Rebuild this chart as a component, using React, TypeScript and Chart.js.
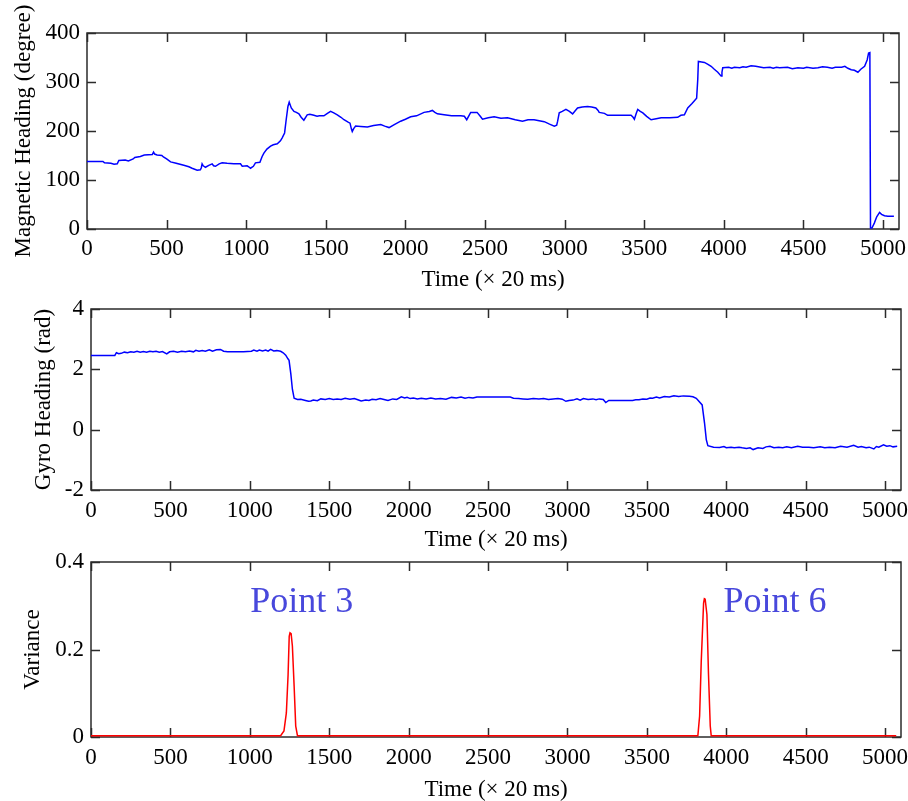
import React, { useEffect, useRef } from 'react';
import { Chart, registerables } from 'chart.js';

Chart.register(...registerables);

// ---------- data ----------
const xTicks = [0, 500, 1000, 1500, 2000, 2500, 3000, 3500, 4000, 4500, 5000];
const xTitle = 'Time (× 20 ms)';

// [time (×20 ms), magnetic heading (degree)]
const magSamples: [number, number][] = [
  [0, 138], [100, 138], [110, 135], [150, 134], [170, 132], [190, 133], [200, 140], [240, 141], [260, 139],
  [290, 143], [300, 146], [335, 148], [360, 151], [410, 152], [418, 157], [425, 153], [440, 151], [470, 150],
  [480, 147], [500, 143], [525, 137], [560, 134], [608, 130], [640, 127], [660, 124], [692, 120], [712, 121],
  [718, 125], [723, 133], [730, 129], [744, 126], [765, 130], [786, 133], [795, 129], [807, 128], [830, 133],
  [849, 135], [880, 134], [922, 133], [964, 133], [975, 128], [1006, 129], [1015, 127], [1027, 124], [1045, 128],
  [1058, 135], [1086, 136], [1100, 148], [1111, 155], [1130, 163], [1153, 169], [1170, 172], [1195, 174],
  [1215, 180], [1226, 186], [1241, 196], [1251, 223], [1262, 250], [1270, 259], [1283, 247], [1300, 240],
  [1315, 238], [1331, 235], [1345, 228], [1362, 222], [1383, 233], [1400, 234], [1425, 232], [1445, 230],
  [1460, 231], [1488, 231], [1510, 236], [1530, 240], [1550, 237], [1572, 233], [1595, 228], [1614, 223],
  [1640, 218], [1652, 216], [1660, 205], [1666, 199], [1675, 205], [1687, 210], [1720, 209], [1761, 208],
  [1800, 211], [1845, 213], [1870, 210], [1897, 207], [1930, 213], [1970, 220], [2000, 224], [2033, 229],
  [2070, 231], [2117, 238], [2150, 240], [2169, 242], [2185, 238], [2201, 235], [2243, 233], [2290, 231],
  [2348, 231], [2370, 230], [2385, 223], [2400, 232], [2410, 238], [2450, 238], [2470, 230], [2484, 224],
  [2520, 227], [2557, 229], [2600, 226], [2641, 227], [2690, 223], [2735, 220], [2770, 223], [2808, 223],
  [2840, 221], [2872, 219], [2905, 214], [2935, 210], [2950, 212], [2956, 220], [2966, 237], [2985, 240],
  [3008, 244], [3030, 240], [3050, 235], [3065, 241], [3081, 247], [3110, 249], [3144, 250], [3170, 249],
  [3196, 247], [3210, 242], [3217, 238], [3250, 236], [3270, 232], [3417, 232], [3430, 228], [3438, 224],
  [3450, 236], [3459, 244], [3475, 240], [3491, 237], [3515, 230], [3543, 223], [3575, 225], [3606, 227],
  [3660, 227], [3710, 228], [3730, 232], [3752, 233], [3773, 247], [3800, 256], [3829, 267], [3836, 305],
  [3840, 342], [3860, 341], [3878, 340], [3900, 336], [3920, 332], [3940, 326], [3962, 320], [3983, 312],
  [3988, 320], [3993, 329], [4030, 330], [4050, 328], [4066, 330], [4100, 329], [4120, 331], [4140, 330],
  [4171, 333], [4200, 332], [4250, 329], [4290, 330], [4310, 328], [4330, 330], [4350, 329], [4400, 330],
  [4430, 327], [4465, 329], [4500, 328], [4520, 330], [4560, 328], [4591, 329], [4620, 331], [4650, 330],
  [4680, 328], [4700, 330], [4740, 330], [4760, 332], [4779, 328], [4800, 325], [4820, 324], [4842, 320],
  [4860, 326], [4884, 332], [4900, 345], [4909, 359], [4917, 360], [4921, 2], [4930, 2], [4945, 12],
  [4960, 25], [4978, 34], [4990, 30], [5009, 27], [5030, 26], [5068, 26],
];

// [time (×20 ms), gyro heading (rad)]
const gyroSamples: [number, number][] = [
  [0, 2.46], [150, 2.46], [160, 2.55], [175, 2.52], [190, 2.53], [210, 2.57], [230, 2.55], [250, 2.58],
  [270, 2.57], [290, 2.6], [310, 2.57], [330, 2.59], [350, 2.57], [370, 2.6], [390, 2.58], [410, 2.6],
  [430, 2.57], [450, 2.59], [477, 2.51], [495, 2.58], [520, 2.6], [545, 2.57], [570, 2.6], [595, 2.58],
  [620, 2.61], [645, 2.58], [660, 2.63], [680, 2.6], [700, 2.62], [720, 2.6], [745, 2.65], [765, 2.6],
  [790, 2.65], [815, 2.66], [835, 2.6], [860, 2.58], [900, 2.58], [960, 2.58], [985, 2.59], [1010, 2.6],
  [1025, 2.64], [1045, 2.6], [1060, 2.64], [1080, 2.61], [1100, 2.64], [1115, 2.6], [1131, 2.66],
  [1150, 2.61], [1170, 2.62], [1194, 2.6], [1210, 2.55], [1226, 2.47], [1240, 2.35], [1247, 2.3],
  [1258, 1.86], [1268, 1.34], [1279, 1.04], [1300, 1.0], [1321, 1.01], [1350, 0.97], [1370, 0.94],
  [1384, 0.95], [1400, 0.98], [1425, 0.96], [1447, 1.02], [1475, 1.0], [1500, 1.03], [1525, 1.0],
  [1550, 1.02], [1575, 1.0], [1600, 1.04], [1630, 1.01], [1658, 1.03], [1680, 0.99], [1701, 0.95],
  [1730, 0.98], [1750, 0.97], [1770, 1.01], [1795, 0.99], [1820, 1.03], [1845, 1.0], [1870, 0.97],
  [1900, 1.02], [1925, 1.0], [1954, 1.09], [1975, 1.05], [1990, 1.07], [2010, 1.03], [2030, 1.05],
  [2055, 1.02], [2080, 1.04], [2110, 1.02], [2140, 1.05], [2170, 1.02], [2200, 1.03], [2235, 1.01],
  [2270, 1.07], [2300, 1.05], [2330, 1.08], [2355, 1.04], [2380, 1.07], [2405, 1.05], [2430, 1.08],
  [2482, 1.08], [2550, 1.08], [2640, 1.08], [2660, 1.04], [2692, 1.03], [2720, 1.02], [2750, 1.01],
  [2785, 1.03], [2820, 1.02], [2850, 1.03], [2880, 1.0], [2910, 1.02], [2940, 1.03], [2967, 1.01],
  [2990, 0.94], [3010, 0.97], [3035, 0.98], [3060, 1.02], [3080, 0.98], [3100, 1.03], [3130, 1.0],
  [3160, 1.02], [3180, 0.99], [3200, 1.02], [3225, 1.0], [3241, 0.9], [3260, 0.97], [3283, 0.97],
  [3410, 0.97], [3430, 0.99], [3450, 0.99], [3475, 1.02], [3500, 1.01], [3520, 1.05], [3536, 1.04],
  [3560, 1.08], [3580, 1.05], [3610, 1.1], [3641, 1.08], [3670, 1.12], [3700, 1.1], [3730, 1.12],
  [3768, 1.11], [3790, 1.09], [3811, 1.04], [3848, 0.82], [3863, 0.22], [3874, -0.33], [3884, -0.53],
  [3920, -0.58], [3958, -0.59], [3985, -0.56], [4000, -0.6], [4030, -0.58], [4050, -0.6], [4080, -0.58],
  [4100, -0.6], [4127, -0.62], [4150, -0.6], [4169, -0.66], [4200, -0.6], [4230, -0.62], [4250, -0.57],
  [4275, -0.55], [4300, -0.6], [4330, -0.58], [4355, -0.6], [4381, -0.57], [4410, -0.6], [4450, -0.55],
  [4480, -0.58], [4520, -0.58], [4550, -0.6], [4592, -0.57], [4620, -0.6], [4650, -0.58], [4685, -0.6],
  [4720, -0.55], [4760, -0.58], [4802, -0.52], [4830, -0.58], [4850, -0.56], [4880, -0.6], [4900, -0.58],
  [4929, -0.64], [4945, -0.56], [4960, -0.58], [4990, -0.5], [5010, -0.55], [5030, -0.53], [5050, -0.57],
  [5076, -0.55],
];

// [time (×20 ms), variance]
const varSamples: [number, number][] = [
  [0, 0.003], [1194, 0.003], [1215, 0.014], [1230, 0.055], [1241, 0.143], [1248, 0.23], [1253, 0.238],
  [1260, 0.236], [1268, 0.208], [1279, 0.116], [1289, 0.025], [1300, 0.003], [3821, 0.003], [3832, 0.048],
  [3842, 0.17], [3857, 0.306], [3862, 0.316], [3867, 0.315], [3878, 0.28], [3888, 0.143], [3899, 0.025],
  [3905, 0.003], [5070, 0.003],
];

const magYTicks = [0, 100, 200, 300, 400];
const gyroYTicks = [-2, 0, 2, 4];
const varYTicks = [0, 0.2, 0.4];

const annoLabels = ['Point 3', 'Point 6'];
const annoTime = [1003, 3983];
const annoValue = [0.285, 0.285];

// ---------- helpers ----------
const SERIF = '"Liberation Serif", "Times New Roman", serif';
const W = 908;

type PanelDef = {
  top: number; height: number;
  area: { left: number; top: number; right: number; bottom: number };
  samples: [number, number][]; color: string;
  yMin: number; yMax: number; yTicks: number[]; yTitle: string;
  yTitlePad: number; xTitlePad: number; xTickPad: number; yTickPad: number;
  annotations?: boolean;
};

const panels: PanelDef[] = [
  {
    top: 0, height: 300, area: { left: 87, top: 33, right: 899, bottom: 229 },
    samples: magSamples, color: '#0000ff', yMin: 0, yMax: 400, yTicks: magYTicks,
    yTitle: 'Magnetic Heading (degree)', yTitlePad: 12, xTitlePad: 9, xTickPad: 8, yTickPad: 7,
  },
  {
    top: 290, height: 270, area: { left: 91, top: 19, right: 901, bottom: 200 },
    samples: gyroSamples, color: '#0000ff', yMin: -2, yMax: 4, yTicks: gyroYTicks,
    yTitle: 'Gyro Heading (rad)', yTitlePad: 32, xTitlePad: 9, xTickPad: 9, yTickPad: 7,
  },
  {
    top: 550, height: 251, area: { left: 91, top: 12, right: 901, bottom: 187 },
    samples: varSamples, color: '#ff0000', yMin: 0, yMax: 0.4, yTicks: varYTicks,
    yTitle: 'Variance', yTitlePad: 21, xTitlePad: 0, xTickPad: 9, yTickPad: 7, annotations: true,
  },
];

const framePlugin = {
  id: 'matlabFrame',
  beforeDatasetsDraw(chart: any) {
    const { ctx, chartArea: a, scales } = chart;
    const x = scales.x, y = scales.y;
    const tl = 9;
    ctx.save();
    ctx.strokeStyle = '#2b2b2b';
    ctx.lineWidth = 1.5;
    ctx.beginPath();
    x.ticks.forEach((tk: any) => {
      const px = Math.round(x.getPixelForValue(tk.value)) + 0.5;
      ctx.moveTo(px, a.bottom); ctx.lineTo(px, a.bottom - tl);
      ctx.moveTo(px, a.top); ctx.lineTo(px, a.top + tl);
    });
    y.ticks.forEach((tk: any) => {
      const py = Math.round(y.getPixelForValue(tk.value)) + 0.5;
      ctx.moveTo(a.left, py); ctx.lineTo(a.left + tl, py);
      ctx.moveTo(a.right, py); ctx.lineTo(a.right - tl, py);
    });
    ctx.stroke();
    ctx.strokeRect(a.left, a.top, a.right - a.left, a.bottom - a.top);
    ctx.restore();
  },
};

const annoPlugin = {
  id: 'pointLabels',
  afterDraw(chart: any) {
    if (!chart.options.plugins.pointLabels?.show) return;
    const { ctx, scales } = chart;
    ctx.save();
    ctx.fillStyle = '#4848dc';
    ctx.font = `36px ${SERIF}`;
    ctx.textAlign = 'left';
    ctx.textBaseline = 'alphabetic';
    annoLabels.forEach((txt, i) => {
      ctx.fillText(txt, scales.x.getPixelForValue(annoTime[i]), scales.y.getPixelForValue(annoValue[i]));
    });
    ctx.restore();
  },
};

function makeConfig(p: PanelDef): any {
  const font = { family: SERIF, size: 23, lineHeight: 1 };
  return {
    type: 'line',
    data: {
      datasets: [{
        data: p.samples.map(([t, v]) => ({ x: t, y: v })),
        borderColor: p.color,
        borderWidth: 1.5,
        pointRadius: 0,
        fill: false,
        tension: 0,
        clip: false,
      }],
    },
    options: {
      responsive: false,
      animation: false,
      events: [],
      devicePixelRatio: 1,
      layout: {
        autoPadding: false,
        padding: { left: 0, top: p.area.top, right: W - p.area.right, bottom: 0 },
      },
      plugins: {
        legend: { display: false },
        tooltip: { enabled: false },
        pointLabels: { show: !!p.annotations },
      },
      scales: {
        x: {
          type: 'linear',
          min: 0,
          max: 5100,
          afterBuildTicks: (s: any) => { s.ticks = xTicks.map((v) => ({ value: v })); },
          afterFit: (s: any) => { s.height = p.height - p.area.bottom; s.paddingLeft = 0; s.paddingRight = 0; },
          grid: { display: false, drawTicks: false },
          border: { display: false },
          ticks: {
            color: '#000', font, padding: p.xTickPad, maxRotation: 0, autoSkip: false,
            callback: (v: any) => String(v),
          },
          title: { display: true, text: xTitle, color: '#000', font, padding: { top: 0, bottom: p.xTitlePad } },
        },
        y: {
          type: 'linear',
          min: p.yMin,
          max: p.yMax,
          afterBuildTicks: (s: any) => { s.ticks = p.yTicks.map((v) => ({ value: v })); },
          afterFit: (s: any) => { s.width = p.area.left; s.paddingTop = 0; s.paddingBottom = 0; },
          grid: { display: false, drawTicks: false },
          border: { display: false },
          ticks: {
            color: '#000', font, padding: p.yTickPad,
            callback: (v: any) => String(v),
          },
          title: { display: true, text: p.yTitle, color: '#000', font, padding: { top: p.yTitlePad, bottom: 0 } },
        },
      },
    },
    plugins: [framePlugin, annoPlugin],
  };
}

export default function App() {
  const refs = [useRef<HTMLCanvasElement>(null), useRef<HTMLCanvasElement>(null), useRef<HTMLCanvasElement>(null)];

  useEffect(() => {
    const charts = panels.map((p, i) => new Chart(refs[i].current as HTMLCanvasElement, makeConfig(p)));
    return () => charts.forEach((c) => c.destroy());
  }, []);

  return (
    <div style={{ position: 'absolute', left: 0, top: 0, width: W, height: 801, background: '#fff', overflow: 'hidden' }}>
      {panels.map((p, i) => (
        <canvas
          key={i}
          ref={refs[i]}
          width={W}
          height={p.height}
          style={{ position: 'absolute', left: 0, top: p.top, width: W, height: p.height, display: 'block' }}
        />
      ))}
    </div>
  );
}
